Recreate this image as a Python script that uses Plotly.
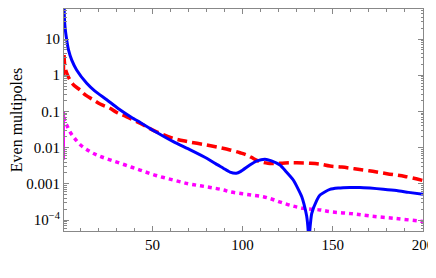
import plotly.graph_objects as go

# ---- data ----
blue_x = [1.0, 1.2, 1.55, 2.5, 3.5, 5.3, 8, 13.6, 18, 24.7, 31, 38.5, 43.1, 52, 61.6, 71, 80.1, 85,
          89.3, 93, 96.5, 99, 104, 108, 112.4, 116, 120.7, 124, 128.1, 132.8, 134, 135.5, 136.5,
          136.8, 137.1, 137.8, 138.3, 141.1, 142.9, 148.4, 153, 159.5, 165, 170.6, 178, 185.4, 192, 200]
blue_y = [200, 40, 22, 9.4, 5.0, 2.6, 1.4, 0.6, 0.37, 0.21, 0.12, 0.068, 0.05, 0.027, 0.0146, 0.0087,
          0.0051, 0.0036, 0.0027, 0.0021, 0.00195, 0.0022, 0.0033, 0.0043, 0.0048, 0.0043, 0.0033,
          0.0022, 0.00127, 0.00044, 0.00028, 0.00013, 0.00004, 0.00001, 0.00004, 0.0001, 0.00015,
          0.00035, 0.00049, 0.0007, 0.00076, 0.00079, 0.00079, 0.00076, 0.00071, 0.00065, 0.00058, 0.00051]

red_x = [1.0, 1.2, 1.55, 2.5, 4.3, 6.5, 9.9, 13, 17.2, 21, 26.5, 30, 35.8, 43.1, 50, 61.6, 70, 80.1,
         88, 93, 98.6, 102.3, 106, 109.6, 114, 120.7, 126, 130, 137.7, 142.9, 148.4, 155, 162, 170,
         180, 190, 200]
red_y = [3.6, 2.4, 1.7, 1.15, 0.74, 0.53, 0.39, 0.28, 0.21, 0.16, 0.122, 0.095, 0.071, 0.047, 0.031,
         0.018, 0.0145, 0.0118, 0.0098, 0.0086, 0.0072, 0.00625, 0.005, 0.0041, 0.0037, 0.0037,
         0.0038, 0.0038, 0.0037, 0.0035, 0.0031, 0.0029, 0.0026, 0.0023, 0.0019, 0.0016, 0.00123]

mag_x = [1.0, 1.55, 2.5, 4, 6.2, 10, 15.4, 20, 26.5, 35, 43.1, 52, 61.6, 70, 76.6, 83, 89.3, 93, 100,
         106, 111.5, 116, 121, 127, 133.6, 142.9, 148.4, 160, 170.6, 185, 198.3, 200]
mag_y = [0.07, 0.05, 0.042, 0.029, 0.02, 0.012, 0.0078, 0.006, 0.0046, 0.0033, 0.0024, 0.0017,
         0.00127, 0.001, 0.00088, 0.00078, 0.00068, 0.0006, 0.00053, 0.00048, 0.00044, 0.00038,
         0.00031, 0.00025, 0.00021, 0.00019, 0.00017, 0.00015, 0.000129, 0.00011, 0.000093, 0.000091]

# steep starting pieces at the left edge (drawn solid in the reference)
red_edge_x = [1.0, 1.0]
red_edge_y = [3.6, 1.0]
mag_edge_x = [1.0, 1.0]
mag_edge_y = [0.096, 0.0046]

x_tick_vals = [50, 100, 150, 200]
y_tick_vals = [10, 1, 0.1, 0.01, 0.001, 0.0001]
y_tick_text = ["10", "1", "0.1", "0.01", "0.001", "10<sup>\u22124</sup>"]

BLUE = "rgb(0,0,255)"
RED = "rgb(255,0,0)"
MAG = "rgb(255,0,255)"

fig = go.Figure()
fig.add_trace(go.Scatter(x=mag_edge_x, y=mag_edge_y, mode="lines",
                         line=dict(color=MAG, width=2), hoverinfo="skip"))
fig.add_trace(go.Scatter(x=red_edge_x, y=red_edge_y, mode="lines",
                         line=dict(color=RED, width=2.5), hoverinfo="skip"))
fig.add_trace(go.Scatter(x=mag_x, y=mag_y, mode="lines", line_shape="spline",
                         line=dict(color=MAG, width=3.5, dash="4px,4px")))
fig.add_trace(go.Scatter(x=red_x, y=red_y, mode="lines", line_shape="spline",
                         line=dict(color=RED, width=3.5, dash="10px,5px")))
fig.add_trace(go.Scatter(x=blue_x, y=blue_y, mode="lines", line_shape="spline",
                         line=dict(color=BLUE, width=3, smoothing=0.6)))

FRAME = "#888888"
FONT = dict(family="'Liberation Serif', 'DejaVu Serif', serif", size=15, color="black")
TITLE_FONT = dict(family="'Liberation Serif', 'DejaVu Serif', serif", size=16, color="black")

# the page body adds an 8px offset, so the figure is sized/margined to compensate
fig.update_layout(
    width=428, height=270,
    margin=dict(l=56, r=13, t=1, b=47),
    paper_bgcolor="white", plot_bgcolor="white",
    showlegend=False,
    font=FONT,
)
fig.update_xaxes(
    range=[1, 200], tickvals=x_tick_vals, ticks="inside", ticklen=5, tickcolor=FRAME,
    showline=True, linecolor=FRAME, linewidth=1, mirror="ticks", showgrid=False, zeroline=False,
    minor=dict(ticks="inside", ticklen=3, dtick=10, tick0=0, tickcolor=FRAME, showgrid=False),
    tickfont=FONT,
)
fig.update_yaxes(
    type="log", range=[-4.304, 1.829], tickvals=y_tick_vals, ticktext=y_tick_text,
    ticks="inside", ticklen=5, tickcolor=FRAME,
    showline=True, linecolor=FRAME, linewidth=1, mirror="ticks", showgrid=False, zeroline=False,
    minor=dict(ticks="inside", ticklen=2.5, dtick="D1", tickcolor=FRAME, showgrid=False),
    tickfont=FONT,
    title=dict(text="Even multipoles", font=TITLE_FONT, standoff=0),
)

fig.write_html("out.html")
